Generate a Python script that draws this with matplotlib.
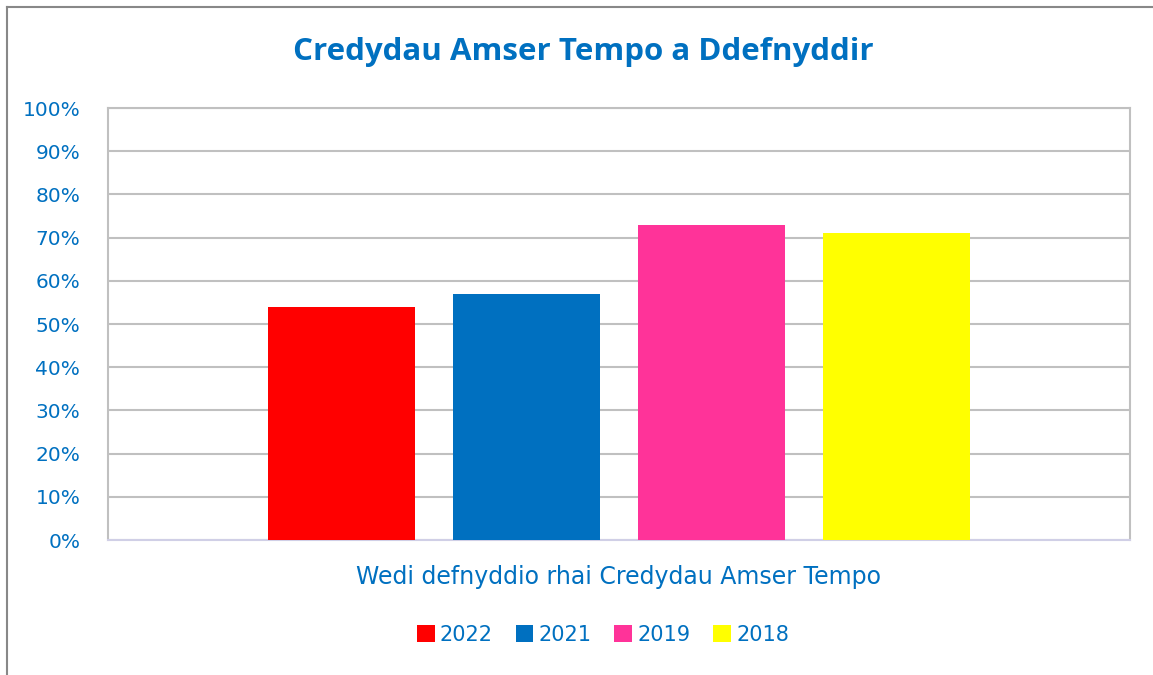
import matplotlib
matplotlib.use('Agg')
import matplotlib.pyplot as plt
from matplotlib.lines import Line2D
from matplotlib.patches import Patch

# data
category = 'Wedi defnyddio rhai Credydau Amser Tempo'
years = ['2022', '2021', '2019', '2018']
values = [54, 57, 73, 71]
bar_colors = ['#FF0000', '#0070C0', '#FF3399', '#FFFF00']
yticks = list(range(0, 101, 10))

txt = '#0070C0'
plt.rcParams['font.family'] = ['DejaVu Sans']

fig = plt.figure(figsize=(11.53, 6.75), dpi=100)
ax = fig.add_axes([108/1153, 1 - 540/675, (1130-108)/1153, (540-108)/675])

width = 0.1438
step = 0.1813
for i, (yr, v, c) in enumerate(zip(years, values, bar_colors)):
    ax.bar((i - 1.5) * step, v, width=width, color=c, label=yr, zorder=3)

ax.set_xlim(-0.5, 0.5)
ax.set_ylim(0, 100)
ax.set_yticks(yticks)
ax.set_yticklabels([f'{t}%' for t in yticks])
ax.tick_params(axis='y', length=0, labelsize=14.5, labelcolor=txt, pad=20)
ax.set_xticks([0])
ax.set_xticklabels([category])
ax.tick_params(axis='x', length=0, labelsize=17, labelcolor=txt, pad=18)
ax.grid(axis='y', color='#C0C0C0', linewidth=1.5, zorder=0)
for s in ['left', 'top', 'right']:
    ax.spines[s].set_color('#C0C0C0')
    ax.spines[s].set_linewidth(1.5)
ax.spines['bottom'].set_color('#D0CFE6')
ax.spines['bottom'].set_linewidth(1.5)

fig.text(583/1153, 1 - 52/675, 'Credydau Amser Tempo a Ddefnyddir', ha='center', va='center',
         fontsize=22.5, fontweight='bold', color=txt, family=['Open Sans', 'DejaVu Sans'])

handles = [Patch(facecolor=c, edgecolor='none') for c in bar_colors]
leg = fig.legend(handles, years, loc='center', bbox_to_anchor=(603/1153, 1 - 635/675), ncol=4,
                 frameon=False, fontsize=15, handlelength=0.85, handleheight=0.85,
                 handletextpad=0.25, columnspacing=1.1)
for t in leg.get_texts():
    t.set_color(txt)

# outer chart border (top and left visible)
fig.add_artist(Line2D([7/1153, 1], [1 - 7/675, 1 - 7/675], color='#888888', linewidth=1.5))
fig.add_artist(Line2D([7/1153, 7/1153], [0, 1 - 7/675], color='#888888', linewidth=1.5))

fig.savefig('out.png', dpi=100)
